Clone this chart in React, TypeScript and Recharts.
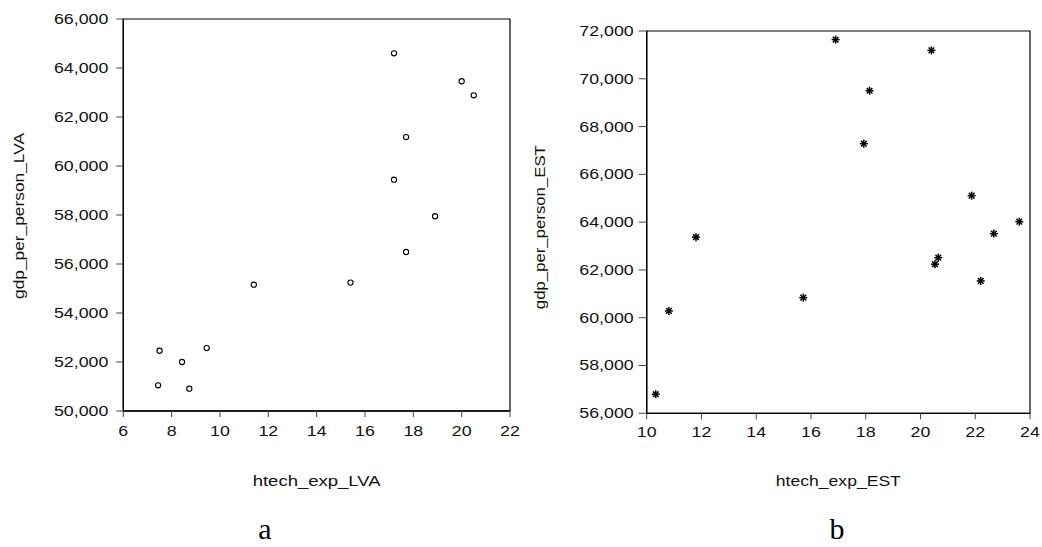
import React from "react";
import { ScatterChart, Scatter, XAxis, YAxis, ReferenceArea, Label } from "recharts";

// Latvia panel (a)
const lvaX = [17.2, 20.0, 20.5, 17.7, 17.2, 18.9, 17.7, 11.4, 15.4, 7.5, 8.43, 9.45, 7.44, 8.73];
const lvaY = [64600, 63460, 62885, 61180, 59440, 57950, 56490, 55155, 55240, 52460, 52000, 52570, 51050, 50910];
const lvaXTicks = [6, 8, 10, 12, 14, 16, 18, 20, 22];
const lvaYTicks = [50000, 52000, 54000, 56000, 58000, 60000, 62000, 64000, 66000];

// Estonia panel (b)
const estX = [16.9, 20.4, 18.14, 17.93, 21.87, 23.61, 11.8, 22.68, 20.65, 20.53, 22.2, 15.72, 10.81, 10.33];
const estY = [71640, 71190, 69500, 67285, 65110, 64020, 63370, 63520, 62515, 62240, 61540, 60840, 60285, 56800];
const estXTicks = [10, 12, 14, 16, 18, 20, 22, 24];
const estYTicks = [56000, 58000, 60000, 62000, 64000, 66000, 68000, 70000, 72000];

const lvaData = lvaX.map((x, i) => ({ x, y: lvaY[i] }));
const estData = estX.map((x, i) => ({ x, y: estY[i] }));

const FONT = "'Liberation Sans', Arial, sans-serif";
const SERIF = "'Liberation Serif', 'Times New Roman', serif";
const STRETCH = 1.27; // source text is a bit wider than plain Arial
const textW = (s: string, fs: number) =>
  s.split("").reduce((a, c) => a + (c === "," ? 0.278 : 0.556), 0) * fs;

const fmt = (v: number) => v.toLocaleString("en-US");

const YTick = (props: any) => {
  const { x, y, payload } = props;
  const s = fmt(payload.value);
  return (
    <text x={x} y={y} dy="0.355em" textAnchor="end" fontSize={14} fill="#111" fontFamily={FONT}
      textLength={textW(s, 14) * STRETCH} lengthAdjust="spacingAndGlyphs">
      {s}
    </text>
  );
};

const XTick = (props: any) => {
  const { x, y, payload } = props;
  const s = String(payload.value);
  return (
    <text x={x} y={y} dy="0.71em" textAnchor="middle" fontSize={14} fill="#111" fontFamily={FONT}
      textLength={textW(s, 14) * STRETCH} lengthAdjust="spacingAndGlyphs">
      {s}
    </text>
  );
};

const yLabel = (text: string, bx: number, len: number, dyc: number) => (props: any) => {
  const vb = props.viewBox || {};
  const x = (vb.x || 0) + bx;
  const y = (vb.y || 0) + (vb.height || 0) / 2 + dyc;
  return (
    <text x={x} y={y} transform={`rotate(-90 ${x} ${y})`} textAnchor="middle" fontSize={14} fill="#111"
      fontFamily={FONT} textLength={len} lengthAdjust="spacingAndGlyphs">
      {text}
    </text>
  );
};

const xLabel = (text: string, by: number, len: number) => (props: any) => {
  const vb = props.viewBox || {};
  const x = (vb.x || 0) + (vb.width || 0) / 2;
  const y = (vb.y || 0) + by;
  return (
    <text x={x} y={y} textAnchor="middle" fontSize={15} fill="#111" fontFamily={FONT}
      textLength={len} lengthAdjust="spacingAndGlyphs">
      {text}
    </text>
  );
};

const Ring = (props: any) => (
  <circle cx={props.cx} cy={props.cy} r={2.6} fill="none" stroke="#000" strokeWidth={1.1} />
);

const Star = (props: any) => {
  const { cx, cy } = props;
  const r = 4;
  const d = r * 0.7071;
  return (
    <g stroke="#000" strokeWidth={1.5}>
      <line x1={cx - r} y1={cy} x2={cx + r} y2={cy} />
      <line x1={cx} y1={cy - r} x2={cx} y2={cy + r} />
      <line x1={cx - d} y1={cy - d} x2={cx + d} y2={cy + d} />
      <line x1={cx - d} y1={cy + d} x2={cx + d} y2={cy - d} />
    </g>
  );
};

export default function App() {
  return (
    <div style={{ position: "absolute", left: 0, top: 0, width: 1042, height: 547, background: "#fff" }}>
      {/* panel a */}
      <div style={{ position: "absolute", left: 0, top: 0 }}>
        <ScatterChart width={530} height={547} margin={{ top: 19, right: 20, bottom: 100, left: 0 }}>
          <XAxis type="number" dataKey="x" domain={[6, 22]} ticks={lvaXTicks} height={36}
            axisLine={{ stroke: "#000", strokeWidth: 1.3 }} tickLine={{ stroke: "#444" }}
            tickSize={6} tickMargin={9} tick={<XTick />}>
            <Label content={xLabel("htech_exp_LVA", 75, 128)} />
          </XAxis>
          <YAxis type="number" dataKey="y" domain={[50000, 66000]} ticks={lvaYTicks} width={123.3}
            axisLine={{ stroke: "#000", strokeWidth: 1.3 }} tickLine={{ stroke: "#444" }}
            tickSize={7} tickMargin={8} tick={<YTick />}>
            <Label content={yLabel("gdp_per_person_LVA", 24, 166, 1)} />
          </YAxis>
          <ReferenceArea x1={6} x2={22} y1={50000} y2={66000} fill="none" stroke="#000" strokeWidth={1.2} ifOverflow="visible" />
          <Scatter data={lvaData} shape={Ring} isAnimationActive={false} />
        </ScatterChart>
      </div>
      {/* panel b */}
      <div style={{ position: "absolute", left: 520, top: 0 }}>
        <ScatterChart width={522} height={547} margin={{ top: 31, right: 12, bottom: 97.7, left: 0 }}>
          <XAxis type="number" dataKey="x" domain={[10, 24]} ticks={estXTicks} height={36}
            axisLine={{ stroke: "#000", strokeWidth: 1.3 }} tickLine={{ stroke: "#444" }}
            tickSize={6} tickMargin={8} tick={<XTick />}>
            <Label content={xLabel("htech_exp_EST", 73, 125)} />
          </XAxis>
          <YAxis type="number" dataKey="y" domain={[56000, 72000]} ticks={estYTicks} width={126.7}
            axisLine={{ stroke: "#000", strokeWidth: 1.3 }} tickLine={{ stroke: "#444" }}
            tickSize={8} tickMargin={5} tick={<YTick />}>
            <Label content={yLabel("gdp_per_person_EST", 25.5, 164, 5)} />
          </YAxis>
          <ReferenceArea x1={10} x2={24} y1={56000} y2={72000} fill="none" stroke="#000" strokeWidth={1.2} ifOverflow="visible" />
          <Scatter data={estData} shape={Star} isAnimationActive={false} />
        </ScatterChart>
      </div>
      {/* panel captions */}
      <svg width={1042} height={547} style={{ position: "absolute", left: 0, top: 0, pointerEvents: "none" }}>
        <text x={265} y={539} textAnchor="middle" fontSize={30} fontFamily={SERIF} fill="#000">a</text>
        <text x={837} y={539} textAnchor="middle" fontSize={30} fontFamily={SERIF} fill="#000">b</text>
      </svg>
    </div>
  );
}
